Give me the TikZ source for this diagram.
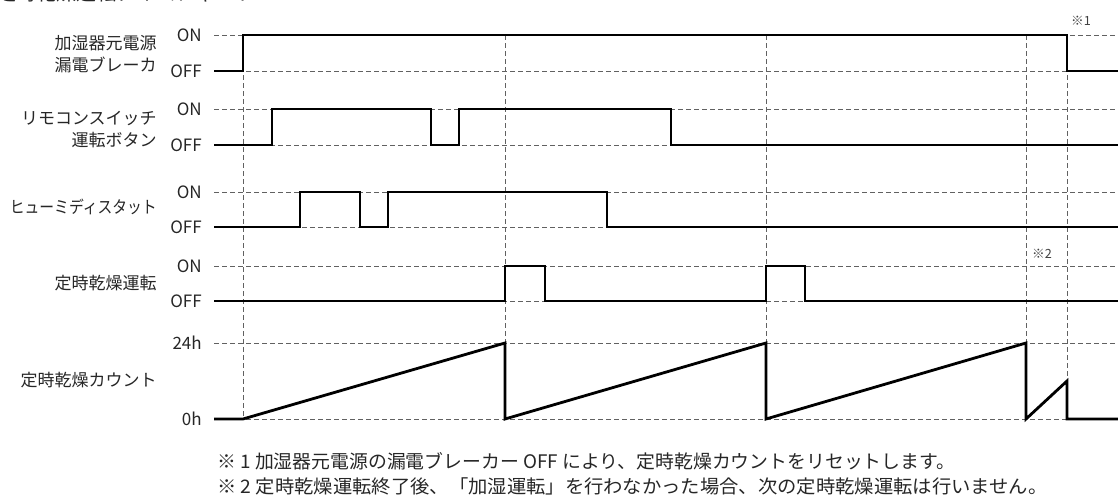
\documentclass[tikz,border=0pt]{standalone}
\usepackage{fontspec}
\setmainfont{Noto Sans CJK JP}
\usetikzlibrary{calc}

\begin{document}
\begin{tikzpicture}[x=0.75pt, y=-0.75pt, line join=miter,
  senal/.style={line width=2.1pt},
  guia/.style={black!62, line width=0.7pt, dash pattern=on 3.5pt off 2.5pt},
  etiq/.style={anchor=east, inner sep=0pt, text=black!85, font=\fontsize{12.75}{16.5}\selectfont, align=right},
  nota/.style={anchor=west, inner sep=0pt, text=black!85, font=\fontsize{14}{17}\selectfont},
  marca/.style={inner sep=0pt, text=black!75, font=\fontsize{9.5}{11}\selectfont}]
  \useasboundingbox (0,0) rectangle (1118,496);
  \clip (0,0) rectangle (1118,496);
  % titulo (recortado arriba)
  \node[anchor=base west, inner sep=0pt, text=black!85, font=\fontsize{15}{18}\selectfont] (titulo) at (-4,1) {定時乾燥運転タイムチャート};
  % niveles ON / OFF y guias horizontales
  \foreach \n/\y in {1on/35, 1off/71, 2on/109, 2off/145, 3on/192, 3off/227, 4on/266, 4off/301, 5on/343, 5off/419} {
    \coordinate (L\n) at (214,\y);
    \draw[guia] (L\n) -- (1118,\y);
  }
  % guias verticales
  \foreach \x in {243, 505, 766, 1026, 1067}
    \draw[guia] (\x,35) -- (\x,419);
  % senales
  \draw[senal] (L1off) -- (243,71) -- (243,35) -- (1067,35) -- (1067,71) -- (1118,71);
  \draw[senal] (L2off) -- (272,145) -- (272,109) -- (431,109) -- (431,145) -- (459,145)
    -- (459,109) -- (671,109) -- (671,145) -- (1118,145);
  \draw[senal] (L3off) -- (300,227) -- (300,192) -- (360,192) -- (360,227) -- (388,227)
    -- (388,192) -- (607,192) -- (607,227) -- (1118,227);
  \draw[senal] (L4off) -- (505,301) -- (505,266) -- (545,266) -- (545,301) -- (766,301)
    -- (766,266) -- (805,266) -- (805,301) -- (1118,301);
  % cuenta (diente de sierra)
  \draw[senal] (L5off) -- (243,419) -- (505,343) -- (505,419) -- (766,343) -- (766,419)
    -- (1026,343) -- (1026,419) -- (1067,381) -- (1067,419) -- (1118,419);
  % etiquetas de nivel
  \node[etiq] (on1) at (202,35) {ON};
  \node[etiq] (off1) at (202,71) {OFF};
  \node[etiq] (on2) at (202,109) {ON};
  \node[etiq] (off2) at (202,145) {OFF};
  \node[etiq] (on3) at (202,192) {ON};
  \node[etiq] (off3) at (202,227) {OFF};
  \node[etiq] (on4) at (202,266) {ON};
  \node[etiq] (off4) at (202,301) {OFF};
  \node[etiq] (max5) at (202,343) {24h};
  \node[etiq] (min5) at (202,419) {0h};
  % nombres de las senales
  \node[etiq] (fuente) at (157,54.5) {加湿器元電源\\漏電ブレーカ};
  \node[etiq] (mando) at (157,129.5) {リモコンスイッチ\\運転ボタン};
  \node[etiq] (humid) at (157,207) {\scalebox{0.87}[1]{ヒューミディスタット}};
  \node[etiq] (secado) at (157,283) {定時乾燥運転};
  \node[etiq] (cuenta) at (157,380) {定時乾燥カウント};
  % marcas y notas
  \node[marca] (m1) at (1081,21) {※1};
  \node[marca] (m2) at (1042,254) {※2};
  \node[nota] (nota1) at (217,461) {\resizebox{553.5pt}{\height}{※ 1 加湿器元電源の漏電ブレーカー OFF により、定時乾燥カウントをリセットします。}};
  \node[nota] (nota2) at (217,486) {\resizebox{622.5pt}{\height}{※ 2 定時乾燥運転終了後、「加湿運転」を行わなかった場合、次の定時乾燥運転は行いません。}};
\end{tikzpicture}
\end{document}
